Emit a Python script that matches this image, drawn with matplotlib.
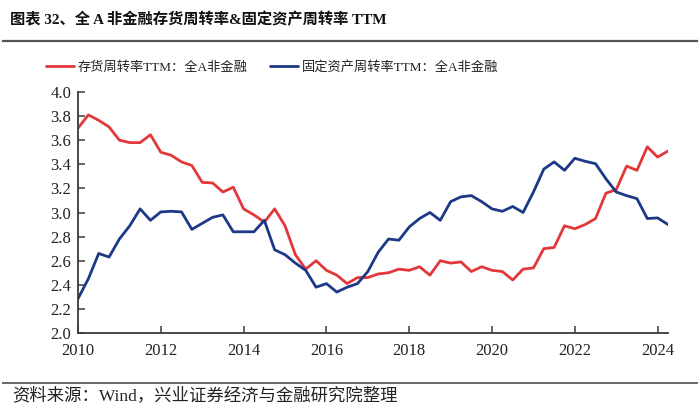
import matplotlib
matplotlib.use('Agg')
import matplotlib.pyplot as plt
from matplotlib.lines import Line2D
import numpy as np

# quarterly, 2010Q1 .. 2024Q2
years = np.arange(58) * 0.25 + 2010

inventory = [3.70, 3.81, 3.765, 3.71,
             3.60, 3.58, 3.58, 3.645,
             3.50, 3.475, 3.42, 3.39,
             3.25, 3.245, 3.17, 3.21,
             3.03, 2.98, 2.92, 3.03,
             2.89, 2.65, 2.53, 2.60,
             2.52, 2.48, 2.41, 2.46,
             2.46, 2.49, 2.50, 2.53,
             2.52, 2.55, 2.48, 2.60,
             2.58, 2.59, 2.51, 2.55,
             2.52, 2.51, 2.44, 2.53,
             2.54, 2.70, 2.71, 2.89,
             2.865, 2.90, 2.95, 3.16,
             3.19, 3.385, 3.35, 3.545,
             3.46, 3.51]

fixed_assets = [2.285, 2.45, 2.66, 2.63,
                2.78, 2.89, 3.03, 2.935,
                3.005, 3.01, 3.005, 2.86,
                2.91, 2.96, 2.98, 2.84,
                2.84, 2.84, 2.935, 2.69,
                2.65, 2.58, 2.52, 2.38,
                2.41, 2.34, 2.38, 2.41,
                2.51, 2.67, 2.78, 2.77,
                2.88, 2.95, 3.00, 2.935,
                3.09, 3.13, 3.14, 3.09,
                3.03, 3.01, 3.05, 3.00,
                3.17, 3.36, 3.42, 3.35,
                3.45, 3.425, 3.405, 3.28,
                3.17, 3.14, 3.115, 2.95,
                2.955, 2.90]

labels = ['存货周转率TTM：全A非金融', '固定资产周转率TTM：全A非金融']
title = '图表 32、全 A 非金融存货周转率&固定资产周转率 TTM'
source = '资料来源：Wind，兴业证券经济与金融研究院整理'

fonts = ['Liberation Serif', 'Noto Sans CJK SC']
red = '#E2383A'
blue = '#1C3886'
axis_color = '#3a3a3a'

fig = plt.figure(figsize=(7, 4.11), dpi=100)
ax = fig.add_axes([78/700, 1 - 333/411, (668 - 78)/700, (333 - 92)/411])

ax.plot(years, inventory, color=red, lw=2.0, solid_joinstyle='round',
        solid_capstyle='round', label=labels[0])
ax.plot(years, fixed_assets, color=blue, lw=2.0, solid_joinstyle='round',
        solid_capstyle='round', label=labels[1])

ax.set_xlim(2010, 2024.25)
ax.set_ylim(2.0, 4.0)
ax.set_xticks(range(2010, 2025, 2))
ax.set_yticks(np.arange(2.0, 4.01, 0.2))
ax.set_yticklabels(['%.1f' % v for v in np.arange(2.0, 4.01, 0.2)])
for s in ['top', 'right']:
    ax.spines[s].set_visible(False)
for s in ['left', 'bottom']:
    ax.spines[s].set_color(axis_color)
    ax.spines[s].set_linewidth(1.3)
ax.tick_params(direction='in', length=5, width=1.1, color=axis_color,
               labelsize=12, labelcolor='#222222')
ax.tick_params(axis='x', pad=7)
ax.tick_params(axis='y', pad=5)
for t in ax.get_xticklabels() + ax.get_yticklabels():
    t.set_family(fonts)

leg = ax.legend(loc='center left', bbox_to_anchor=(46/700, 1 - 67/411),
                bbox_transform=fig.transFigure, ncol=2, frameon=False,
                handlelength=2.1, handletextpad=0.3, columnspacing=1.7,
                borderpad=0, borderaxespad=0, prop={'family': fonts, 'size': 9.5})
for t in leg.get_texts():
    t.set_color('#222222')

fig.text(10/700, 1 - 19/411, title, family=['Liberation Serif', 'Noto Sans CJK SC'],
         fontweight='bold', fontsize=11, va='center', ha='left', color='#111111')
fig.add_artist(Line2D([3/700, 697/700], [1 - 41.5/411] * 2, color='#555555', lw=1.6))
fig.add_artist(Line2D([3/700, 697/700], [1 - 383/411] * 2, color='#666666', lw=1.4))
fig.text(12/700, 1 - 396/411, source, family=fonts, fontsize=12.5,
         va='center', ha='left', color='#222222')

fig.savefig('out.png', dpi=100)
